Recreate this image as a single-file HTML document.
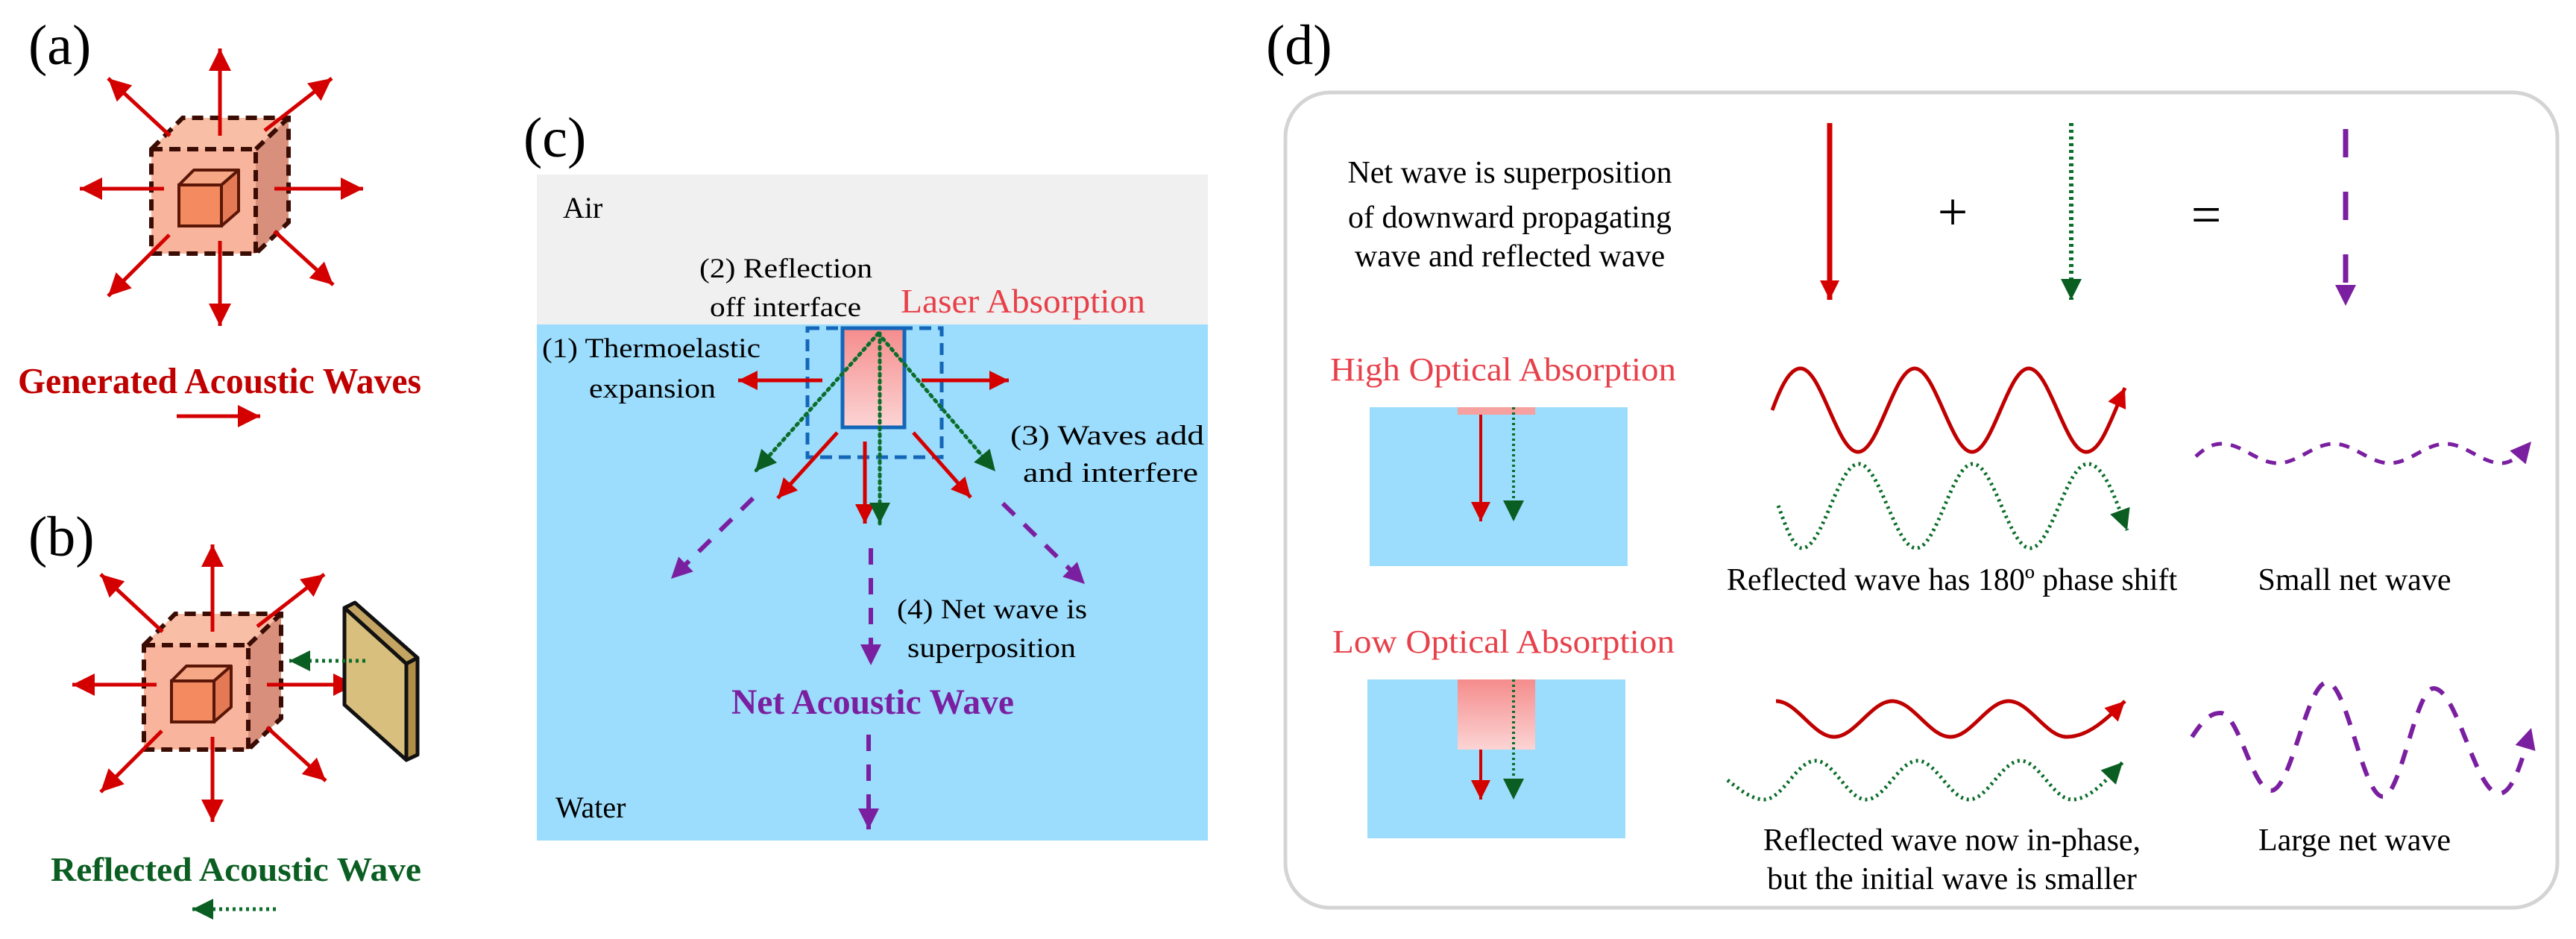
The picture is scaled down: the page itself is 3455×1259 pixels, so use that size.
<!DOCTYPE html>
<html><head><meta charset="utf-8"><style>
html,body{margin:0;padding:0;background:#fff;width:3455px;height:1259px;overflow:hidden}
svg{display:block}
text{font-family:"Liberation Serif",serif}
</style></head><body>
<svg width="3455" height="1259" viewBox="0 0 3455 1259" xmlns="http://www.w3.org/2000/svg">
<defs>
<marker id="rA" viewBox="0 0 10 10" refX="10" refY="5" markerWidth="32" markerHeight="30" orient="auto" markerUnits="userSpaceOnUse"><path d="M0,0L10,5L0,10z" fill="#d40000"/></marker>
<marker id="rS" viewBox="0 0 10 10" refX="10" refY="5" markerWidth="28" markerHeight="26" orient="auto" markerUnits="userSpaceOnUse"><path d="M0,0L10,5L0,10z" fill="#d40000"/></marker>
<marker id="gA" viewBox="0 0 10 10" refX="10" refY="5" markerWidth="30" markerHeight="28" orient="auto" markerUnits="userSpaceOnUse"><path d="M0,0L10,5L0,10z" fill="#0b5e22"/></marker>
<marker id="pA" viewBox="0 0 10 10" refX="10" refY="5" markerWidth="30" markerHeight="28" orient="auto" markerUnits="userSpaceOnUse"><path d="M0,0L10,5L0,10z" fill="#7a1fa0"/></marker>
<linearGradient id="pk" x1="0" y1="0" x2="0" y2="1"><stop offset="0" stop-color="#f58c8c"/><stop offset="1" stop-color="#fcd4d4"/></linearGradient>
<g id="cube">
  <polygon points="203,200 245,158 387,158 343,200" fill="#f9bfa6"/>
  <polygon points="343,200 387,158 387,298 343,340" fill="#d8907c"/>
  <rect x="203" y="200" width="140" height="140" fill="#f8b49c"/>
  <path d="M203,200 L245,158 L387,158 L387,298 L343,340 L203,340 Z M203,200 L343,200 L343,340 M343,200 L387,158" fill="none" stroke="#3a0c04" stroke-width="6" stroke-dasharray="15 9"/>
  <polygon points="240,248 260,228 320,228 297,248" fill="#f6a886" stroke="#5a1606" stroke-width="4" stroke-linejoin="round"/>
  <polygon points="297,248 320,228 320,283 297,303" fill="#e47a55" stroke="#5a1606" stroke-width="4" stroke-linejoin="round"/>
  <rect x="240" y="248" width="57" height="55" fill="#f48a60" stroke="#5a1606" stroke-width="4"/>
  <g stroke="#d40000" stroke-width="5" fill="none" marker-end="url(#rA)">
    <line x1="295" y1="182" x2="295" y2="65"/>
    <line x1="295" y1="323" x2="295" y2="437"/>
    <line x1="220" y1="253" x2="107" y2="253"/>
    <line x1="368" y1="253" x2="487" y2="253"/>
    <line x1="228" y1="182" x2="145" y2="105"/>
    <line x1="355" y1="175" x2="445" y2="105"/>
    <line x1="227" y1="315" x2="145" y2="397"/>
    <line x1="368" y1="310" x2="447" y2="382"/>
  </g>
</g>
</defs>

<!-- (a) -->
<text x="38" y="86" font-size="76">(a)</text>
<use href="#cube"/>
<text x="24" y="527" font-size="49" font-weight="bold" fill="#c00000" textLength="541" lengthAdjust="spacingAndGlyphs">Generated Acoustic Waves</text>
<line x1="237" y1="558" x2="349" y2="558" stroke="#d40000" stroke-width="5" marker-end="url(#rA)"/>

<!-- (b) -->
<text x="38" y="745" font-size="76">(b)</text>
<use href="#cube" transform="translate(-10,665)"/>
<polygon points="462,815 476,808 560,882 545,890" fill="#c4a462" stroke="#111" stroke-width="5" stroke-linejoin="round"/>
<polygon points="545,890 560,882 560,1012 545,1019" fill="#b08e48" stroke="#111" stroke-width="5" stroke-linejoin="round"/>
<polygon points="462,815 545,890 545,1019 462,945" fill="#d8bf7e" stroke="#111" stroke-width="5" stroke-linejoin="round"/>
<line x1="490" y1="886" x2="388" y2="886" stroke="#0b6e2a" stroke-width="5" stroke-dasharray="4 5" marker-end="url(#gA)"/>
<text x="68" y="1181" font-size="46" font-weight="bold" fill="#0b5e22" textLength="497" lengthAdjust="spacingAndGlyphs">Reflected Acoustic Wave</text>
<line x1="370" y1="1219" x2="258" y2="1219" stroke="#0b6e2a" stroke-width="5" stroke-dasharray="4 5" marker-end="url(#gA)"/>

<!-- (c) -->
<text x="702" y="210" font-size="76">(c)</text>
<rect x="720" y="234" width="900" height="202" fill="#f0f0f0"/>
<rect x="720" y="435" width="900" height="692" fill="#9cdcfc"/>
<text x="755" y="292" font-size="40">Air</text>
<text x="745" y="1096" font-size="40">Water</text>
<text x="938" y="372" font-size="37" textLength="232" lengthAdjust="spacingAndGlyphs">(2) Reflection</text>
<text x="952" y="424" font-size="37" textLength="203" lengthAdjust="spacingAndGlyphs">off interface</text>
<text x="1208" y="419" font-size="45" fill="#e8404a" textLength="328" lengthAdjust="spacingAndGlyphs">Laser Absorption</text>
<text x="727" y="479" font-size="37" textLength="293" lengthAdjust="spacingAndGlyphs">(1) Thermoelastic</text>
<text x="790" y="533" font-size="37" textLength="170" lengthAdjust="spacingAndGlyphs">expansion</text>
<text x="1355" y="596" font-size="37" textLength="260" lengthAdjust="spacingAndGlyphs">(3) Waves add</text>
<text x="1372" y="646" font-size="37" textLength="235" lengthAdjust="spacingAndGlyphs">and interfere</text>
<text x="1203" y="829" font-size="37" textLength="255" lengthAdjust="spacingAndGlyphs">(4) Net wave is</text>
<text x="1217" y="881" font-size="37" textLength="226" lengthAdjust="spacingAndGlyphs">superposition</text>
<text x="981" y="957" font-size="48" font-weight="bold" fill="#7a1fa0" textLength="379" lengthAdjust="spacingAndGlyphs">Net Acoustic Wave</text>
<rect x="1130" y="440" width="83" height="133" fill="url(#pk)" stroke="#1466b8" stroke-width="5"/>
<rect x="1083" y="440" width="180" height="173" fill="none" stroke="#1466b8" stroke-width="5" stroke-dasharray="16 9"/>
<g stroke="#d40000" stroke-width="5" marker-end="url(#rS)">
  <line x1="1103" y1="510" x2="990" y2="510"/>
  <line x1="1236" y1="510" x2="1353" y2="510"/>
  <line x1="1123" y1="580" x2="1043" y2="668"/>
  <line x1="1225" y1="580" x2="1302" y2="667"/>
  <line x1="1160" y1="592" x2="1160" y2="702"/>
</g>
<g stroke="#0b6e2a" stroke-width="5" stroke-dasharray="3 6" stroke-linecap="round" marker-end="url(#gA)" fill="none">
  <line x1="1178" y1="447" x2="1013" y2="632"/>
  <line x1="1178" y1="447" x2="1335" y2="632"/>
  <line x1="1180" y1="447" x2="1180" y2="702"/>
</g>
<g stroke="#7a1fa0" stroke-width="6" stroke-dasharray="22 18" marker-end="url(#pA)" fill="none">
  <line x1="1010" y1="668" x2="900" y2="776"/>
  <line x1="1345" y1="675" x2="1455" y2="783"/>
  <line x1="1168" y1="735" x2="1168" y2="892"/>
  <line x1="1165" y1="985" x2="1165" y2="1112"/>
</g>

<!-- (d) -->
<text x="1698" y="86" font-size="76">(d)</text>
<rect x="1724" y="124" width="1706" height="1093" rx="60" fill="#fff" stroke="#d4d4d4" stroke-width="5"/>
<g font-size="42" text-anchor="middle">
<text x="2025" y="245">Net wave is superposition</text>
<text x="2025" y="305">of downward propagating</text>
<text x="2025" y="357">wave and reflected wave</text>
<text x="2618" y="791">Reflected wave has 180º phase shift</text>
<text x="3158" y="791">Small net wave</text>
<text x="2618" y="1140">Reflected wave now in-phase,</text>
<text x="2618" y="1192">but the initial wave is smaller</text>
<text x="3158" y="1140">Large net wave</text>
</g>
<text x="2619" y="308" font-size="72" text-anchor="middle">+</text>
<text x="2959" y="312" font-size="72" text-anchor="middle">=</text>
<line x1="2454" y1="165" x2="2454" y2="402" stroke="#d40000" stroke-width="7" marker-end="url(#rS)"/>
<line x1="2778" y1="165" x2="2778" y2="402" stroke="#0b6e2a" stroke-width="6" stroke-dasharray="4 5" marker-end="url(#gA)"/>
<line x1="3146" y1="173" x2="3146" y2="410" stroke="#7a1fa0" stroke-width="7" stroke-dasharray="38 46" marker-end="url(#pA)"/>

<text x="1784" y="510" font-size="44" fill="#e8404a" textLength="464" lengthAdjust="spacingAndGlyphs">High Optical Absorption</text>
<rect x="1837" y="546" width="346" height="213" fill="#9cdcfc"/>
<rect x="1955" y="546" width="104" height="10" fill="#f6a0a0"/>
<line x1="1986" y1="556" x2="1986" y2="699" stroke="#d40000" stroke-width="4" marker-end="url(#rS)"/>
<line x1="2030" y1="546" x2="2030" y2="699" stroke="#0b6e2a" stroke-width="4" stroke-dasharray="3 4" marker-end="url(#gA)"/>

<text x="1787" y="875" font-size="44" fill="#e8404a" textLength="459" lengthAdjust="spacingAndGlyphs">Low Optical Absorption</text>
<rect x="1834" y="911" width="346" height="213" fill="#9cdcfc"/>
<rect x="1955" y="911" width="104" height="94" fill="url(#pk)"/>
<line x1="1986" y1="1005" x2="1986" y2="1072" stroke="#d40000" stroke-width="4" marker-end="url(#rS)"/>
<line x1="2030" y1="911" x2="2030" y2="1072" stroke="#0b6e2a" stroke-width="4" stroke-dasharray="3 4" marker-end="url(#gA)"/>

<!-- waves high -->
<path d="M2377,550 C2388,520 2400,494 2415,494 C2443,494 2464,606 2492,606 C2520,606 2540,494 2568,494 C2596,494 2617,606 2645,606 C2673,606 2693,494 2721,494 C2749,494 2770,606 2798,606 C2818,606 2832,560 2850,520" fill="none" stroke="#c00000" stroke-width="5" marker-end="url(#rS)"/>
<path d="M2385,678 C2395,705 2405,735 2417,735 C2445,735 2465,622 2493,622 C2521,622 2542,735 2570,735 C2598,735 2618,622 2646,622 C2674,622 2695,735 2723,735 C2751,735 2772,622 2800,622 C2822,622 2838,670 2853,711" fill="none" stroke="#0b6e2a" stroke-width="5" stroke-dasharray="3 5" marker-end="url(#gA)"/>
<path d="M2945,612 C2958,600 2968,595 2980,595 C3007,595 3028,621 3055,621 C3082,621 3103,595 3130,595 C3157,595 3178,621 3205,621 C3232,621 3253,595 3280,595 C3307,595 3328,621 3355,621 C3372,621 3384,605 3395,592" fill="none" stroke="#7a1fa0" stroke-width="5" stroke-dasharray="14 12" marker-end="url(#pA)"/>
<!-- waves low -->
<path d="M2382,940 C2410,940 2432,988 2460,988 C2488,988 2510,940 2538,940 C2566,940 2588,988 2616,988 C2644,988 2666,940 2694,940 C2722,940 2744,988 2772,988 C2800,988 2825,965 2850,940" fill="none" stroke="#c00000" stroke-width="5" marker-end="url(#rS)"/>
<path d="M2317,1046 C2335,1060 2350,1072 2366,1072 C2391,1072 2410,1020 2435,1020 C2460,1020 2478,1072 2503,1072 C2528,1072 2547,1020 2572,1020 C2597,1020 2616,1072 2641,1072 C2666,1072 2685,1020 2710,1020 C2735,1020 2754,1072 2779,1072 C2805,1072 2828,1042 2847,1022" fill="none" stroke="#0b6e2a" stroke-width="5" stroke-dasharray="3 5" marker-end="url(#gA)"/>
<path d="M2940,988 C2955,965 2965,956 2978,956 C3003,956 3021,1060 3046,1060 C3073,1060 3094,915 3121,915 C3148,915 3169,1068 3196,1068 C3220,1068 3240,923 3264,923 C3296,923 3320,1064 3352,1064 C3372,1064 3385,1010 3395,976" fill="none" stroke="#7a1fa0" stroke-width="6" stroke-dasharray="20 16" marker-end="url(#pA)"/>
</svg>
</body></html>
